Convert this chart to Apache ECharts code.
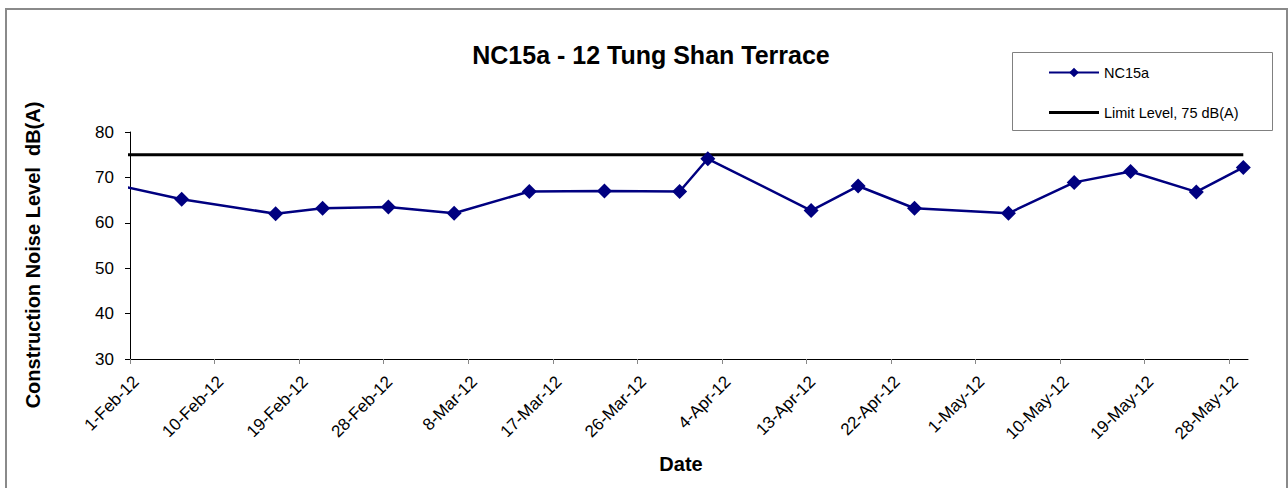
<!DOCTYPE html>
<html>
<head>
<meta charset="utf-8">
<script src="https://cdn.jsdelivr.net/npm/echarts@6/dist/echarts.min.js"></script>
<style>
  html, body { margin: 0; padding: 0; background: #fff; }
  #chart { width: 1288px; height: 488px; }
</style>
</head>
<body>
<div id="chart"></div>
<script>
// measured dates and levels, dB(A)
const dates = ['2012-01-27', '2012-02-06', '2012-02-16', '2012-02-21', '2012-02-28', '2012-03-06',
  '2012-03-14', '2012-03-22', '2012-03-30', '2012-04-02', '2012-04-13', '2012-04-18',
  '2012-04-24', '2012-05-04', '2012-05-11', '2012-05-17', '2012-05-24', '2012-05-29'];
const levels = [69.7, 65.2, 62.0, 63.2, 63.5, 62.1, 66.9, 67.0, 66.9, 74.1, 62.7, 68.1,
  63.2, 62.1, 68.9, 71.3, 66.8, 72.2];
const limitLevel = 75;

// x axis: days since 1-Feb-12, tick every 9 days
const startDate = '2012-02-01';
const endDate = '2012-05-30';
const tickStep = 9;
const months = ['Jan', 'Feb', 'Mar', 'Apr', 'May', 'Jun', 'Jul', 'Aug', 'Sep', 'Oct', 'Nov', 'Dec'];
const yTicks = [30, 40, 50, 60, 70, 80];

const DAY = 86400000;
const t0 = Date.parse(startDate);
const dayOf = (s) => (Date.parse(s) - t0) / DAY;
const xMax = dayOf(endDate);

const tickDays = [];
for (let d = 0; d <= xMax; d += tickStep) tickDays.push(d);

const dayLabel = (d) => {
  const dt = new Date(t0 + d * DAY);
  return dt.getUTCDate() + '-' + months[dt.getUTCMonth()] + '-' + String(dt.getUTCFullYear()).slice(2);
};

// Excel date axis puts each point in the middle of its day
const noiseData = dates.map((s, i) => [dayOf(s) + 0.5, levels[i]]);
const limitData = dates.map((s) => [dayOf(s) + 0.5, limitLevel]);

const font = 'Liberation Sans, Arial, sans-serif';

const myChart = echarts.init(document.getElementById('chart'), null, { renderer: 'svg' });

const option = {
  backgroundColor: '#fff',
  animation: false,
  grid: { left: 130, top: 132, right: 40, bottom: 129, containLabel: false },
  legend: {
    orient: 'vertical',
    left: 1048,
    top: 65,
    padding: 0,
    itemGap: 25,
    itemWidth: 50,
    itemHeight: 12,
    textStyle: { fontFamily: font, fontSize: 14.5, color: '#000' },
    data: [
      'NC15a',
      { name: 'Limit Level, 75 dB(A)', icon: 'path://M0,0L50,0L50,3L0,3Z' }
    ]
  },
  graphic: [
    {
      type: 'rect', z: -10, silent: true,
      shape: { x: 6, y: 9, width: 1281, height: 500 },
      style: { fill: 'none', stroke: '#8a8a8a', lineWidth: 2 }
    },
    {
      type: 'rect', silent: true,
      shape: { x: 1012.5, y: 52.5, width: 260, height: 78 },
      style: { fill: 'none', stroke: '#808080', lineWidth: 1 }
    },
    {
      type: 'text', silent: true,
      x: 651, y: 55,
      style: {
        text: 'NC15a - 12 Tung Shan Terrace',
        font: 'bold 25px ' + font,
        fill: '#000',
        align: 'center', verticalAlign: 'middle'
      }
    },
    {
      type: 'text', silent: true,
      x: 33, y: 255, rotation: Math.PI / 2,
      style: {
        text: 'Construction Noise Level  dB(A)',
        font: 'bold 20px ' + font,
        fill: '#000',
        align: 'center', verticalAlign: 'middle'
      }
    },
    {
      type: 'text', silent: true,
      x: 681, y: 464,
      style: {
        text: 'Date',
        font: 'bold 20px ' + font,
        fill: '#000',
        align: 'center', verticalAlign: 'middle'
      }
    }
  ],
  xAxis: {
    type: 'value',
    min: 0,
    max: xMax,
    splitLine: { show: false },
    axisLine: { lineStyle: { color: '#000', width: 1 } },
    axisTick: { customValues: tickDays, length: 5, lineStyle: { color: '#888' } },
    axisLabel: {
      customValues: tickDays,
      formatter: dayLabel,
      rotate: 45,
      margin: 14,
      verticalAlign: 'top',
      fontFamily: font, fontSize: 17, color: '#000'
    }
  },
  yAxis: {
    type: 'value',
    min: 30,
    max: 80,
    interval: 10,
    splitLine: { show: false },
    axisLine: { show: true, lineStyle: { color: '#000', width: 1 } },
    axisTick: { show: true, length: 5, lineStyle: { color: '#000' } },
    axisLabel: {
      customValues: yTicks,
      margin: 16,
      fontFamily: font, fontSize: 17, color: '#000'
    }
  },
  series: [
    {
      name: 'NC15a',
      type: 'line',
      data: noiseData,
      clip: true,
      symbol: 'diamond',
      symbolSize: 15,
      lineStyle: { color: '#000080', width: 2.5 },
      itemStyle: { color: '#000080' },
      z: 3
    },
    {
      name: 'Limit Level, 75 dB(A)',
      type: 'line',
      data: limitData,
      clip: true,
      symbol: 'none',
      lineStyle: { color: '#000', width: 3 },
      itemStyle: { color: '#000' },
      z: 2
    }
  ]
};

myChart.setOption(option);
</script>
</body>
</html>
